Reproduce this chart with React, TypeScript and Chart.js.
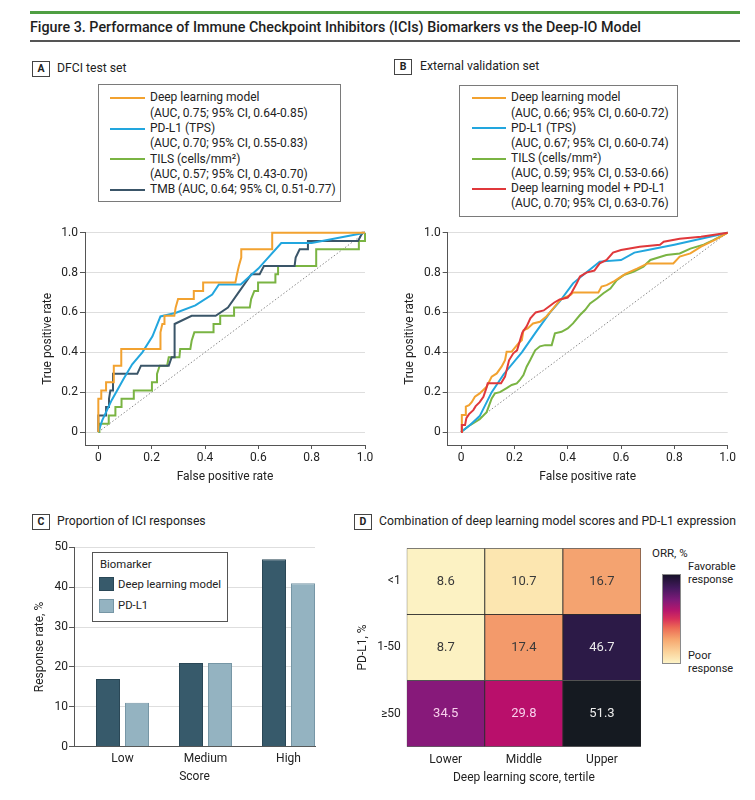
import React, { useEffect, useRef } from 'react';
import { Chart, registerables } from 'chart.js';

Chart.register(...registerables);

const FONT = 'Roboto, "Noto Sans", "DejaVu Sans", sans-serif';
const TEXT = '#222222';
const AXIS = '#555555';
const GRID = '#dedede';

// ---------------- Panel A: DFCI test set (false positive rate, true positive rate) ----------------
const A_DEEP_LEARNING: [number, number][] = [
  [0, 0], [0, 0.167], [0.011, 0.167], [0.011, 0.208], [0.029, 0.208], [0.029, 0.25], [0.058, 0.25],
  [0.058, 0.333], [0.086, 0.333], [0.086, 0.417], [0.233, 0.417], [0.233, 0.5], [0.24, 0.542],
  [0.248, 0.542], [0.248, 0.583], [0.285, 0.583], [0.29, 0.625], [0.299, 0.667], [0.358, 0.667],
  [0.358, 0.708], [0.393, 0.708], [0.393, 0.75], [0.514, 0.75], [0.52, 0.792], [0.527, 0.833],
  [0.536, 0.875], [0.536, 0.917], [0.652, 0.917], [0.652, 1], [1, 1],
];
const A_PDL1: [number, number][] = [
  [0, 0], [0.015, 0.06], [0.05, 0.16], [0.096, 0.27], [0.127, 0.34], [0.165, 0.4], [0.203, 0.48],
  [0.233, 0.58], [0.289, 0.597], [0.364, 0.635], [0.427, 0.69], [0.452, 0.74], [0.534, 0.74],
  [0.6, 0.82], [0.686, 0.948], [0.8, 0.948], [1, 1],
];
const A_TILS: [number, number][] = [
  [0, 0], [0.004, 0], [0.004, 0.042], [0.039, 0.042], [0.039, 0.083], [0.064, 0.083], [0.064, 0.125],
  [0.087, 0.125], [0.087, 0.167], [0.133, 0.167], [0.133, 0.208], [0.201, 0.208], [0.201, 0.25],
  [0.22, 0.25], [0.22, 0.292], [0.23, 0.333], [0.258, 0.333], [0.264, 0.375], [0.304, 0.375],
  [0.307, 0.417], [0.345, 0.417], [0.35, 0.458], [0.36, 0.5], [0.432, 0.5], [0.432, 0.542],
  [0.457, 0.542], [0.457, 0.583], [0.509, 0.583], [0.509, 0.625], [0.568, 0.625], [0.573, 0.667],
  [0.585, 0.708], [0.599, 0.708], [0.599, 0.75], [0.664, 0.75], [0.664, 0.792], [0.674, 0.792],
  [0.674, 0.833], [0.817, 0.833], [0.817, 0.917], [0.977, 0.917], [0.977, 0.958], [1, 0.958], [1, 1],
];
const A_TMB: [number, number][] = [
  [0, 0], [0, 0.083], [0.029, 0.083], [0.029, 0.125], [0.04, 0.125], [0.04, 0.167], [0.045, 0.208],
  [0.055, 0.208], [0.055, 0.292], [0.146, 0.292], [0.16, 0.333], [0.264, 0.333], [0.275, 0.375],
  [0.286, 0.375], [0.286, 0.542], [0.35, 0.583], [0.44, 0.583], [0.486, 0.625], [0.53, 0.708],
  [0.574, 0.792], [0.605, 0.792], [0.621, 0.833], [0.736, 0.833], [0.74, 0.875], [0.755, 0.917],
  [0.786, 0.917], [0.786, 0.958], [0.974, 0.958], [0.99, 1], [1, 1],
];

// ---------------- Panel B: external validation set ----------------
const B_DEEP_LEARNING: [number, number][] = [
  [0, 0], [0.003, 0.085], [0.015, 0.085], [0.018, 0.127], [0.03, 0.135], [0.04, 0.15], [0.052, 0.177],
  [0.07, 0.194], [0.096, 0.227], [0.115, 0.278], [0.134, 0.294], [0.152, 0.328], [0.165, 0.36],
  [0.171, 0.403], [0.19, 0.403], [0.2, 0.42], [0.215, 0.445], [0.228, 0.46], [0.234, 0.51],
  [0.25, 0.52], [0.27, 0.545], [0.296, 0.553], [0.32, 0.58], [0.346, 0.62], [0.37, 0.66],
  [0.39, 0.675], [0.41, 0.687], [0.42, 0.7], [0.515, 0.7], [0.527, 0.73], [0.546, 0.737],
  [0.571, 0.754], [0.6, 0.78], [0.62, 0.796], [0.66, 0.82], [0.7, 0.846], [0.796, 0.846],
  [0.82, 0.88], [0.86, 0.896], [0.9, 0.93], [0.95, 0.963], [1, 1],
];
const B_PDL1: [number, number][] = [
  [0, 0], [0.034, 0.035], [0.07, 0.08], [0.115, 0.2], [0.16, 0.29], [0.228, 0.4], [0.28, 0.5],
  [0.334, 0.6], [0.37, 0.655], [0.42, 0.746], [0.46, 0.79], [0.52, 0.855], [0.6, 0.863],
  [0.65, 0.9], [0.7, 0.913], [0.8, 0.94], [0.9, 0.97], [1, 1],
];
const B_TILS: [number, number][] = [
  [0, 0], [0.034, 0.035], [0.07, 0.064], [0.096, 0.1], [0.115, 0.169], [0.127, 0.194], [0.146, 0.2],
  [0.171, 0.22], [0.19, 0.236], [0.209, 0.244], [0.22, 0.26], [0.234, 0.286], [0.246, 0.328],
  [0.259, 0.36], [0.278, 0.41], [0.296, 0.43], [0.315, 0.436], [0.34, 0.436], [0.352, 0.495],
  [0.377, 0.503], [0.4, 0.52], [0.42, 0.545], [0.446, 0.587], [0.465, 0.612], [0.484, 0.645],
  [0.51, 0.67], [0.534, 0.696], [0.56, 0.72], [0.584, 0.762], [0.61, 0.787], [0.646, 0.804],
  [0.684, 0.83], [0.71, 0.863], [0.77, 0.888], [0.82, 0.896], [0.86, 0.92], [0.91, 0.94],
  [0.946, 0.963], [1, 1],
];
const B_COMBINED: [number, number][] = [
  [0, 0], [0.003, 0.035], [0.015, 0.035], [0.02, 0.07], [0.03, 0.09], [0.046, 0.11], [0.055, 0.13],
  [0.07, 0.15], [0.084, 0.177], [0.095, 0.22], [0.1, 0.245], [0.15, 0.245], [0.165, 0.278],
  [0.18, 0.36], [0.196, 0.395], [0.21, 0.41], [0.23, 0.5], [0.246, 0.53], [0.26, 0.57],
  [0.28, 0.6], [0.31, 0.61], [0.33, 0.63], [0.35, 0.65], [0.37, 0.665], [0.4, 0.675],
  [0.415, 0.7], [0.434, 0.746], [0.446, 0.78], [0.47, 0.8], [0.5, 0.81], [0.52, 0.846],
  [0.546, 0.863], [0.57, 0.9], [0.6, 0.913], [0.67, 0.93], [0.746, 0.94], [0.76, 0.955],
  [0.82, 0.97], [0.9, 0.98], [1, 1],
];
const CHANCE: [number, number][] = [[0, 0], [1, 1]];

const ROC_TICKS = [0, 0.2, 0.4, 0.6, 0.8, 1.0];
const ROC_TICK_LABELS = ['0', '0.2', '0.4', '0.6', '0.8', '1.0'];

const A_LEGEND_LINES = [
  ['Deep learning model', '(AUC, 0.75; 95% CI, 0.64-0.85)'],
  ['PD-L1 (TPS)', '(AUC, 0.70; 95% CI, 0.55-0.83)'],
  ['TILS (cells/mm²)', '(AUC, 0.57; 95% CI, 0.43-0.70)'],
  ['TMB (AUC, 0.64; 95% CI, 0.51-0.77)'],
];
const B_LEGEND_LINES = [
  ['Deep learning model', '(AUC, 0.66; 95% CI, 0.60-0.72)'],
  ['PD-L1 (TPS)', '(AUC, 0.67; 95% CI, 0.60-0.74)'],
  ['TILS (cells/mm²)', '(AUC, 0.59; 95% CI, 0.53-0.66)'],
  ['Deep learning model + PD-L1', '(AUC, 0.70; 95% CI, 0.63-0.76)'],
];

// ---------------- Panel C: proportion of ICI responses ----------------
const SCORE_CATEGORIES = ['Low', 'Medium', 'High'];
const DL_RESPONSE = [17, 21, 47];
const PDL1_RESPONSE = [11, 21, 41];
const RESPONSE_TICKS = [0, 10, 20, 30, 40, 50];
const C_LEGEND = ['Deep learning model', 'PD-L1'];

// ---------------- Panel D: ORR by tertile and PD-L1 ----------------
const TERTILES = ['Lower', 'Middle', 'Upper'];
const PDL1_LEVELS = ['<1', '1-50', '≥50'];
const ORR_LT1 = [8.6, 10.7, 16.7];
const ORR_1TO50 = [8.7, 17.4, 46.7];
const ORR_GE50 = [34.5, 29.8, 51.3];
const ORR_ROWS = [ORR_LT1, ORR_1TO50, ORR_GE50];

// colours
const C_ORANGE = '#f2a230';
const C_BLUE = '#22a6de';
const C_GREEN = '#7ab443';
const C_SLATE = '#3a5568';
const C_RED = '#e0383b';
const BAR_DARK = '#375a6b';
const BAR_LIGHT = '#94b3c1';

const ORR_COLOR_STOPS: [number, string][] = [
  [8, '#fcf5c8'], [11, '#fce4ad'], [17, '#f4a06d'], [23, '#e9494f'], [29.8, '#b90f6b'],
  [34.5, '#87197a'], [40, '#5b1a6e'], [46.7, '#2c1a47'], [52, '#121a1b'],
];

function hexToRgb(h: string) {
  const n = parseInt(h.slice(1), 16);
  return [(n >> 16) & 255, (n >> 8) & 255, n & 255];
}
function orrColor(v: number) {
  const s = ORR_COLOR_STOPS;
  if (v <= s[0][0]) return s[0][1];
  for (let i = 1; i < s.length; i++) {
    if (v <= s[i][0]) {
      const t = (v - s[i - 1][0]) / (s[i][0] - s[i - 1][0]);
      const a = hexToRgb(s[i - 1][1]);
      const b = hexToRgb(s[i][1]);
      const c = a.map((x, k) => Math.round(x + (b[k] - x) * t));
      return `rgb(${c[0]},${c[1]},${c[2]})`;
    }
  }
  return s[s.length - 1][1];
}
function orrTextColor(v: number) {
  if (v >= 40) return '#ececec';
  if (v >= 25) return '#f8d0ec';
  return '#3a3a3a';
}

const font = (size: number, weight: string = 'normal') => ({ family: FONT, size, weight });

// ---------------- chart builders ----------------
function rocConfig(series: { pts: [number, number][]; color: string }[], yWidth: number, padding: any): any {
  const datasets: any[] = series.map((s) => ({
    data: s.pts.map(([x, y]) => ({ x, y })),
    borderColor: s.color,
    borderWidth: 2,
    pointRadius: 0,
    tension: 0,
    fill: false,
    clip: false,
  }));
  datasets.push({
    data: CHANCE.map(([x, y]) => ({ x, y })),
    borderColor: '#8a8a8a',
    borderWidth: 1,
    borderDash: [1.5, 2],
    pointRadius: 0,
    fill: false,
    clip: false,
  });
  return {
    type: 'line',
    data: { datasets },
    options: {
      animation: false,
      responsive: false,
      events: [],
      layout: { padding },
      plugins: { legend: { display: false }, tooltip: { enabled: false } },
      scales: {
        x: {
          type: 'linear',
          offset: false,
          min: -0.05,
          max: 1,
          afterBuildTicks: (s: any) => { s.ticks = ROC_TICKS.map((v) => ({ value: v })); },
          afterFit: (s: any) => { s.height = 43.2; },
          ticks: { callback: (_v: any, i: number) => ROC_TICK_LABELS[i], padding: 2, maxRotation: 0, autoSkip: false, font: font(12), color: TEXT },
          grid: { drawOnChartArea: false, drawTicks: true, tickLength: 4, tickColor: AXIS },
          border: { display: true, color: AXIS, width: 1 },
          title: { display: true, text: 'False positive rate', font: font(12), color: TEXT, padding: { top: 4, bottom: 4 } },
        },
        y: {
          type: 'linear',
          min: -0.065,
          max: 1,
          afterBuildTicks: (s: any) => { s.ticks = ROC_TICKS.map((v) => ({ value: v })); },
          afterFit: (s: any) => { s.width = yWidth; },
          ticks: { callback: (_v: any, i: number) => ROC_TICK_LABELS[i], padding: 2, autoSkip: false, font: font(12), color: TEXT },
          grid: { color: GRID, lineWidth: 1, drawTicks: true, tickLength: 5, tickColor: AXIS },
          border: { display: true, color: AXIS, width: 1 },
          title: { display: true, text: 'True positive rate', font: font(12), color: TEXT, padding: { top: 4, bottom: 4 } },
        },
      },
    },
  };
}

function barConfig(): any {
  return {
    type: 'bar',
    data: {
      datasets: [
        {
          label: C_LEGEND[0],
          data: SCORE_CATEGORIES.map((_c, i) => ({ x: i, y: DL_RESPONSE[i] })),
          backgroundColor: BAR_DARK,
          borderColor: '#2a4756',
          borderWidth: 1,
        },
        {
          label: C_LEGEND[1],
          data: SCORE_CATEGORIES.map((_c, i) => ({ x: i, y: PDL1_RESPONSE[i] })),
          backgroundColor: BAR_LIGHT,
          borderColor: '#7696a5',
          borderWidth: 1,
        },
      ],
    },
    options: {
      animation: false,
      responsive: false,
      events: [],
      categoryPercentage: 0.699,
      barPercentage: 0.828,
      layout: { padding: { left: 28.5, right: 25, top: 12.3, bottom: 6.5 } },
      plugins: { legend: { display: false }, tooltip: { enabled: false } },
      scales: {
        x: {
          type: 'linear',
          offset: false,
          min: -0.5843,
          max: 2.3193,
          afterBuildTicks: (s: any) => { s.ticks = SCORE_CATEGORIES.map((_c, i) => ({ value: i })); },
          afterFit: (s: any) => { s.height = 41.8; },
          ticks: { callback: (_v: any, i: number) => SCORE_CATEGORIES[i], padding: 5, maxRotation: 0, autoSkip: false, font: font(12), color: TEXT },
          grid: { display: false, drawTicks: false, offset: false },
          border: { display: true, color: AXIS, width: 1 },
          title: { display: true, text: 'Score', font: font(12), color: TEXT, padding: { top: 4, bottom: 4 } },
        },
        y: {
          type: 'linear',
          min: 0,
          max: 50,
          afterBuildTicks: (s: any) => { s.ticks = RESPONSE_TICKS.map((v) => ({ value: v })); },
          afterFit: (s: any) => { s.width = 45.5; },
          ticks: { padding: 1, autoSkip: false, font: font(12), color: TEXT },
          grid: { color: GRID, drawTicks: true, tickLength: 5, tickColor: AXIS },
          border: { display: true, color: AXIS, width: 1 },
          title: { display: true, text: 'Response rate, %', font: font(12), color: TEXT, padding: { top: 4, bottom: 4 } },
        },
      },
    },
  };
}

const cellLabelPlugin = {
  id: 'cellLabels',
  afterDatasetsDraw(chart: any) {
    const ctx = chart.ctx;
    ctx.save();
    ctx.font = `13px ${FONT}`;
    ctx.textAlign = 'center';
    ctx.textBaseline = 'middle';
    chart.data.datasets.forEach((_ds: any, r: number) => {
      const meta = chart.getDatasetMeta(r);
      meta.data.forEach((el: any, c: number) => {
        const v = ORR_ROWS[r][c];
        const p = el.getProps(['x', 'y', 'base'], true);
        ctx.fillStyle = orrTextColor(v);
        ctx.fillText(v.toFixed(1), p.x, (p.y + p.base) / 2 + 0.5);
      });
    });
    ctx.restore();
  },
};

function heatConfig(): any {
  const n = PDL1_LEVELS.length;
  return {
    type: 'bar',
    data: {
      labels: TERTILES,
      datasets: ORR_ROWS.map((row, r) => ({
        label: PDL1_LEVELS[r],
        data: row.map(() => [n - 1 - r, n - r]),
        backgroundColor: row.map((v) => orrColor(v)),
        borderColor: '#2b2b2b',
        borderWidth: 0.8,
        borderSkipped: false,
        grouped: false,
        barPercentage: 1,
        categoryPercentage: 1,
      })),
    },
    options: {
      animation: false,
      responsive: false,
      events: [],
      layout: { padding: { left: 11.5, right: 11, top: 11.7, bottom: 5.5 } },
      plugins: { legend: { display: false }, tooltip: { enabled: false } },
      scales: {
        x: {
          type: 'category',
          afterFit: (s: any) => { s.height = 42.8; },
          ticks: { padding: 6, maxRotation: 0, font: font(12), color: TEXT },
          grid: { display: false, drawTicks: false },
          border: { display: false },
          title: { display: true, text: 'Deep learning score, tertile', font: font(12), color: TEXT, padding: { top: 4, bottom: 4 } },
        },
        y: {
          type: 'linear',
          min: 0,
          max: n,
          afterBuildTicks: (s: any) => { s.ticks = PDL1_LEVELS.map((_l, i) => ({ value: i + 0.5 })); },
          afterFit: (s: any) => { s.width = 55.2; },
          ticks: { callback: (v: number) => PDL1_LEVELS[n - 1 - Math.floor(v)], padding: 6, autoSkip: false, font: font(12), color: TEXT },
          grid: { display: false, drawTicks: false },
          border: { display: false },
          title: { display: true, text: 'PD-L1, %', font: font(12), color: TEXT, padding: { top: 4, bottom: 4 } },
        },
      },
    },
    plugins: [cellLabelPlugin],
  };
}

// ---------------- components ----------------
function ChartBox({ left, top, width, height, build }: { left: number; top: number; width: number; height: number; build: () => any }) {
  const ref = useRef<HTMLCanvasElement>(null);
  useEffect(() => {
    const chart = new Chart(ref.current as HTMLCanvasElement, build());
    return () => chart.destroy();
  }, []);
  return (
    <canvas
      ref={ref}
      width={width}
      height={height}
      style={{ position: 'absolute', left, top, width, height }}
    />
  );
}

function PanelLabel({ left, top, letter, title, gap }: { left: number; top: number; letter: string; title: string; gap: number }) {
  return (
    <>
      <div
        style={{
          position: 'absolute', left, top, width: 18, height: 16, boxSizing: 'border-box',
          border: '1px solid #444', font: `bold 10.5px ${FONT}`, lineHeight: '14px', textAlign: 'center', color: TEXT,
        }}
      >
        {letter}
      </div>
      <div style={{ position: 'absolute', left: left + gap, top: top - 1, font: `12.2px ${FONT}`, lineHeight: '17px', whiteSpace: 'nowrap', color: TEXT }}>
        {title}
      </div>
    </>
  );
}

function RocLegend({ left, top, width, height, lines, colors, padTop, rowH, lineLeft, lineW, textLeft }: any) {
  const rows: { text: string; color?: string }[] = [];
  lines.forEach((entry: string[], i: number) => {
    entry.forEach((t, j) => rows.push({ text: t, color: j === 0 ? colors[i] : undefined }));
  });
  return (
    <div
      style={{
        position: 'absolute', left, top, width, height, boxSizing: 'border-box',
        border: '1px solid #7a7a7a', background: '#fff',
      }}
    >
      {rows.map((r, i) => (
        <div key={i} style={{ position: 'absolute', left: 0, top: padTop + i * rowH, height: rowH, width: '100%' }}>
          {r.color && (
            <div style={{ position: 'absolute', left: lineLeft, top: rowH / 2 - 1, width: lineW, height: 2, background: r.color }} />
          )}
          <div style={{ position: 'absolute', left: textLeft, top: 0, font: `12px ${FONT}`, lineHeight: `${rowH}px`, whiteSpace: 'nowrap', color: TEXT }}>
            {r.text}
          </div>
        </div>
      ))}
    </div>
  );
}

export default function App() {
  const aSeries = [
    { pts: A_DEEP_LEARNING, color: C_ORANGE },
    { pts: A_PDL1, color: C_BLUE },
    { pts: A_TMB, color: C_SLATE },
    { pts: A_TILS, color: C_GREEN },
  ];
  const bSeries = [
    { pts: B_COMBINED, color: C_RED },
    { pts: B_DEEP_LEARNING, color: C_ORANGE },
    { pts: B_PDL1, color: C_BLUE },
    { pts: B_TILS, color: C_GREEN },
  ];
  const colorbar =
    'linear-gradient(to top, #fdf3c6 0%, #fbd49c 12%, #f6a66e 27%, #ec6a55 40%, #d8315a 50%, #b5166c 60%, #7d1a78 72%, #45195f 85%, #17122a 100%)';

  return (
    <div style={{ position: 'absolute', left: 0, top: 0, width: 755, height: 800, background: '#fff', overflow: 'hidden', fontFamily: FONT, color: TEXT }}>
      {/* header */}
      <div style={{ position: 'absolute', left: 30, top: 11, width: 710, height: 3, background: '#4f9f42' }} />
      <div style={{ position: 'absolute', left: 30, top: 16.5, font: `500 14.3px ${FONT}`, lineHeight: '20px', whiteSpace: 'nowrap', color: '#1e1e1e' }}>
        Figure 3. Performance of Immune Checkpoint Inhibitors (ICIs) Biomarkers vs the Deep-IO Model
      </div>
      <div style={{ position: 'absolute', left: 30, top: 40, width: 710, height: 1.5, background: '#555' }} />

      {/* Panel A */}
      <PanelLabel left={32} top={61} letter="A" title="DFCI test set" gap={25} />
      <ChartBox left={0} top={220} width={378} height={272}
        build={() => rocConfig(aSeries, 48.5, { left: 36.5, right: 13, top: 12.7, bottom: 3.8 })} />
      <RocLegend left={98} top={84} width={243} height={118} lines={A_LEGEND_LINES}
        colors={[C_ORANGE, C_BLUE, C_GREEN, C_SLATE]} padTop={5.3} rowH={15.33} lineLeft={11} lineW={35} textLeft={51} />

      {/* Panel B */}
      <PanelLabel left={394} top={59} letter="B" title="External validation set" gap={26} />
      <ChartBox left={380} top={220} width={375} height={272}
        build={() => rocConfig(bSeries, 49.2, { left: 18.5, right: 27.3, top: 12.7, bottom: 3.8 })} />
      <RocLegend left={459} top={85} width={219} height={132} lines={B_LEGEND_LINES}
        colors={[C_ORANGE, C_BLUE, C_GREEN, C_RED]} padTop={4.4} rowH={15.14} lineLeft={12} lineW={34} textLeft={51} />

      {/* Panel C */}
      <PanelLabel left={32} top={514} letter="C" title="Proportion of ICI responses" gap={25} />
      <ChartBox left={0} top={535} width={340} height={260} build={barConfig} />
      <div style={{ position: 'absolute', left: 92, top: 552, width: 136, height: 70, boxSizing: 'border-box', border: '1px solid #555', background: '#fff' }}>
        <div style={{ position: 'absolute', left: 7, top: 4, font: `11.3px ${FONT}`, lineHeight: '15px', color: TEXT }}>Biomarker</div>
        {C_LEGEND.map((t, i) => (
          <React.Fragment key={t}>
            <div style={{ position: 'absolute', left: 6, top: 24 + i * 21.5, width: 15, height: 14, boxSizing: 'border-box', background: i === 0 ? BAR_DARK : BAR_LIGHT, border: `1px solid ${i === 0 ? '#2a4756' : '#7696a5'}` }} />
            <div style={{ position: 'absolute', left: 25, top: 23.5 + i * 21.5, font: `11.3px ${FONT}`, lineHeight: '15px', whiteSpace: 'nowrap', color: TEXT }}>{t}</div>
          </React.Fragment>
        ))}
      </div>

      {/* Panel D */}
      <PanelLabel left={354} top={514} letter="D" title="Combination of deep learning model scores and PD-L1 expression" gap={25} />
      <ChartBox left={340} top={535} width={312} height={260} build={heatConfig} />
      <div style={{ position: 'absolute', left: 652, top: 545, font: `11.5px ${FONT}`, lineHeight: '16px', whiteSpace: 'nowrap', color: TEXT }}>ORR, %</div>
      <div style={{ position: 'absolute', left: 662, top: 574, width: 19, height: 90, boxSizing: 'border-box', border: '1px solid #8a8a8a', background: colorbar }} />
      <div style={{ position: 'absolute', left: 688, top: 561, font: `11px ${FONT}`, lineHeight: '12.5px', color: TEXT }}>Favorable<br />response</div>
      <div style={{ position: 'absolute', left: 688, top: 650, font: `11px ${FONT}`, lineHeight: '12.5px', color: TEXT }}>Poor<br />response</div>
    </div>
  );
}
